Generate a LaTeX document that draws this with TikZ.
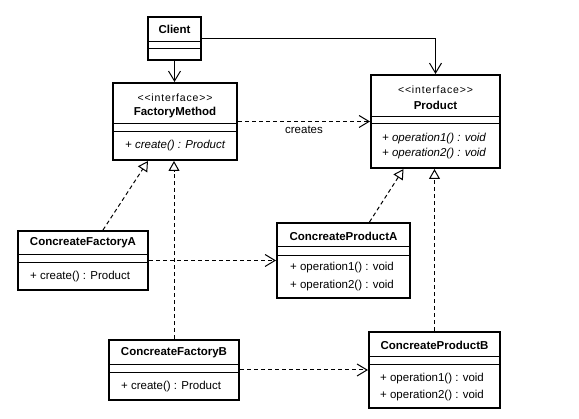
\documentclass[tikz,border=0pt]{standalone}
\usepackage{fontspec}
\usepackage{tikz}
\usetikzlibrary{arrows.meta}
\newfontfamily\umlfont{Liberation Sans}
\newfontfamily\umlstereo[LetterSpace=8]{Liberation Sans}

\begin{document}
\begin{tikzpicture}[x=1pt,y=-1pt,
  cls/.style={draw,line width=2pt,inner sep=0pt},
  sep/.style={line width=1pt},
  clsname/.style={font=\umlfont\bfseries\fontsize{11.5}{13}\selectfont,inner sep=1pt},
  stereo/.style={font=\umlstereo\fontsize{10.5}{12}\selectfont,inner sep=1pt},
  op/.style={font=\umlfont\fontsize{11.5}{13}\selectfont,inner sep=1pt,anchor=west},
  absop/.style={op,font=\umlfont\itshape\fontsize{11.5}{13}\selectfont},
  assoc/.style={line width=1pt,-{Straight Barb[length=10pt,width=12pt]}},
  dep/.style={assoc,dash pattern=on 4pt off 3pt},
  realize/.style={line width=1pt,dash pattern=on 4pt off 3pt,-{Triangle[fill=white,length=10pt,width=11pt]}}]
\useasboundingbox (0,0) rectangle (579,419);

% Client
\node[cls,minimum width=53pt,minimum height=43pt] (client) at (174.5,38.5) {};
\node[clsname] (clientname) at (174.5,29.5) {Client};
\draw[sep] (client.west |- 0,42) -- (client.east |- 0,42);
\draw[sep] (client.west |- 0,49) -- (client.east |- 0,49);

% FactoryMethod
\node[cls,minimum width=124pt,minimum height=77pt] (fm) at (175,121.5) {};
\node[stereo] (fmst) at (175,98) {<{}<interface>{}>};
\node[clsname] (fmname) at (175,113) {FactoryMethod};
\draw[sep] (fm.west |- 0,124) -- (fm.east |- 0,124);
\draw[sep] (fm.west |- 0,132) -- (fm.east |- 0,132);
\node[absop] (fmop) at (124,146) {+ create() : Product};

% Product
\node[cls,minimum width=129pt,minimum height=93pt] (prod) at (435.5,121.5) {};
\node[stereo] (prodst) at (435.5,90) {<{}<interface>{}>};
\node[clsname] (prodname) at (435.5,105) {Product};
\draw[sep] (prod.west |- 0,117) -- (prod.east |- 0,117);
\draw[sep] (prod.west |- 0,124) -- (prod.east |- 0,124);
\node[absop] (prodop1) at (381,139) {+ operation1() : void};
\node[absop] (prodop2) at (381,154) {+ operation2() : void};

% ConcreateFactoryA
\node[cls,minimum width=130pt,minimum height=59pt] (cfa) at (83,260.5) {};
\node[clsname] (cfaname) at (83,243) {ConcreateFactoryA};
\draw[sep] (cfa.west |- 0,255) -- (cfa.east |- 0,255);
\draw[sep] (cfa.west |- 0,263) -- (cfa.east |- 0,263);
\node[op] (cfaop) at (29,277) {+ create() : Product};

% ConcreateProductA
\node[cls,minimum width=133pt,minimum height=75pt] (cpa) at (343.5,260.5) {};
\node[clsname] (cpaname) at (343.5,236) {ConcreateProductA};
\draw[sep] (cpa.west |- 0,247) -- (cpa.east |- 0,247);
\draw[sep] (cpa.west |- 0,256) -- (cpa.east |- 0,256);
\node[op] (cpaop1) at (289,268) {+ operation1() : void};
\node[op] (cpaop2) at (289,286) {+ operation2() : void};

% ConcreateFactoryB
\node[cls,minimum width=130pt,minimum height=60pt] (cfb) at (174,370) {};
\node[clsname] (cfbname) at (174,353) {ConcreateFactoryB};
\draw[sep] (cfb.west |- 0,365) -- (cfb.east |- 0,365);
\draw[sep] (cfb.west |- 0,373) -- (cfb.east |- 0,373);
\node[op] (cfbop) at (120,387) {+ create() : Product};

% ConcreateProductB
\node[cls,minimum width=131pt,minimum height=76pt] (cpb) at (434.5,370) {};
\node[clsname] (cpbname) at (434.5,345) {ConcreateProductB};
\draw[sep] (cpb.west |- 0,357) -- (cpb.east |- 0,357);
\draw[sep] (cpb.west |- 0,365) -- (cpb.east |- 0,365);
\node[op] (cpbop1) at (379,379) {+ operation1() : void};
\node[op] (cpbop2) at (379,396) {+ operation2() : void};

% connectors
\draw[assoc] (client.south) -- (client.south |- fm.north);
\draw[assoc] (client.east) -| (prod.north);
\draw[dep] (fm.east) -- node[below=1pt,font=\umlfont\fontsize{11.5}{13}\selectfont] (creates) {creates} (prod.west);
\draw[realize] ([xshift=20pt]cfa.north) -- ([xshift=-27pt]fm.south);
\draw[realize] (cfb.north) -- (cfb.north |- fm.south);
\draw[realize] ([xshift=26pt]cpa.north) -- ([xshift=-32pt]prod.south);
\draw[realize] (cpb.north) -- (cpb.north |- prod.south);
\draw[dep] (cfa.east) -- (cfa.east -| cpa.west);
\draw[dep] (cfb.east) -- (cfb.east -| cpb.west);
\end{tikzpicture}
\end{document}
